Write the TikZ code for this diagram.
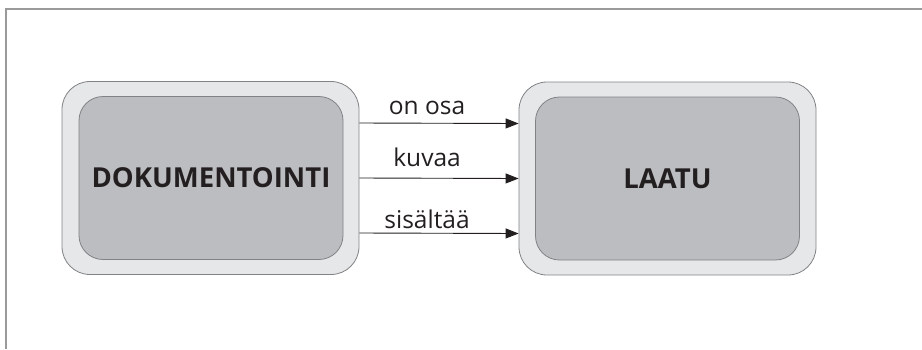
\documentclass[tikz,border=0pt]{standalone}
\usepackage{fontspec}
\setmainfont{Open Sans}
\usetikzlibrary{arrows.meta}
\definecolor{outergray}{HTML}{E6E7E8}
\definecolor{innergray}{HTML}{BCBDC0}
\definecolor{edgegray}{HTML}{808285}
\definecolor{framegray}{HTML}{9A9A9A}
\definecolor{inkblack}{HTML}{231F20}

\begin{document}
\begin{tikzpicture}[x=1pt, y=-1pt,
  outerbox/.style={draw=edgegray, fill=outergray, rounded corners=28pt, minimum width=297pt, minimum height=193pt, line width=0.8pt},
  innerbox/.style={draw=edgegray, fill=innergray, rounded corners=24pt, minimum width=264pt, minimum height=163pt, line width=0.8pt, text=inkblack, font=\fontsize{27.5}{32}\selectfont\bfseries},
  rel/.style={-{Triangle[length=13pt,width=10pt]}, line width=0.9pt, inkblack},
  rellabel/.style={anchor=base, pos=0.425, inner sep=0pt, text=inkblack, font=\fontsize{24.5}{29}\selectfont}]
\useasboundingbox (0,0) rectangle (922,349);

% Frame
\draw[framegray, line width=1.5pt] (6,349) -- (6,9) -- (922,9);

% Boxes
\node[outerbox] (dokout) at (210.5,178) {};
\node[innerbox] (dok) at (211,178) {DOKUMENTOINTI};
\node[outerbox] (laatuout) at (667.5,178.5) {};
\node[innerbox] (laatu) at (667.5,178.5) {LAATU};

% Relations
\draw[rel] ([yshift=55pt]dokout.east) -- node[rellabel, yshift=9pt] {on osa} ([yshift=55pt]laatuout.west);
\draw[rel] (dokout.east) -- node[rellabel, yshift=12pt] {kuvaa} (laatuout.west);
\draw[rel] ([yshift=-55pt]dokout.east) -- node[rellabel, yshift=5pt] {sisältää} ([yshift=-55pt]laatuout.west);
\end{tikzpicture}
\end{document}
